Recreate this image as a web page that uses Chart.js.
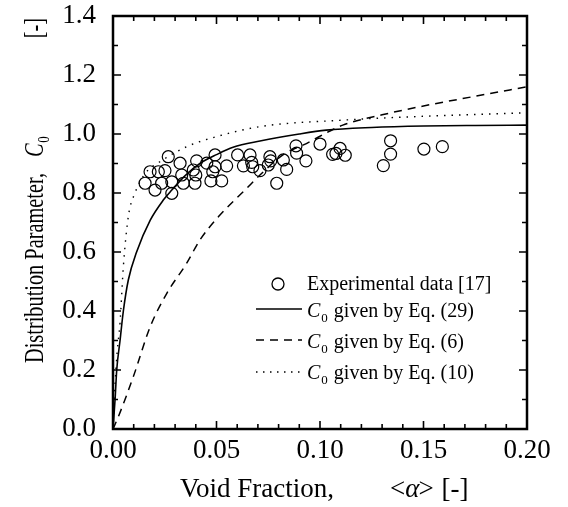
<!DOCTYPE html>
<html>
<head>
<meta charset="utf-8">
<script src="https://cdn.jsdelivr.net/npm/chart.js@4.4.1/dist/chart.umd.min.js"></script>
<style>
  html, body { margin: 0; padding: 0; background: #fff; }
</style>
</head>
<body>
<canvas id="chart" width="568" height="507"></canvas>
<script>
// Experimental data [17]
const expX = [0.0155, 0.0179, 0.0203, 0.0219, 0.0235, 0.0251, 0.0267, 0.0284, 0.0284, 0.0324,
              0.0332, 0.0340, 0.0388, 0.0396, 0.0404, 0.0400, 0.0453, 0.0493, 0.0493, 0.0482,
              0.0473, 0.0525, 0.0549, 0.0602, 0.0662, 0.0670, 0.0630, 0.0675, 0.0710, 0.0758,
              0.0762, 0.0750, 0.0823, 0.0839, 0.0791, 0.0884, 0.0887, 0.0932, 0.1000, 0.1097,
              0.1061, 0.1077, 0.1122, 0.1341, 0.1341, 0.1306, 0.1502, 0.1591];
const expY = [0.833, 0.872, 0.810, 0.872, 0.833, 0.876, 0.923, 0.838, 0.799, 0.901,
              0.861, 0.833, 0.878, 0.833, 0.909, 0.861, 0.901, 0.929, 0.889, 0.872,
              0.841, 0.841, 0.892, 0.929, 0.929, 0.904, 0.892, 0.889, 0.876, 0.923,
              0.909, 0.895, 0.912, 0.880, 0.833, 0.960, 0.935, 0.909, 0.966, 0.951,
              0.931, 0.934, 0.928, 0.977, 0.932, 0.893, 0.949, 0.957];

// C0 given by Eq. (29)
const eq29X = [0, 0.001, 0.0018, 0.0034, 0.005, 0.0074, 0.0114, 0.018, 0.0243, 0.0284, 0.035,
               0.042, 0.050, 0.058, 0.071, 0.090, 0.103, 0.125, 0.150, 0.175, 0.200];
const eq29Y = [0, 0.10, 0.20, 0.30, 0.40, 0.505, 0.60, 0.708, 0.776, 0.81, 0.86,
               0.90, 0.93, 0.955, 0.976, 1.000, 1.013, 1.022, 1.027, 1.029, 1.030];

// C0 given by Eq. (6)
const eq6X = [0, 0.0026, 0.0098, 0.018, 0.026, 0.0356, 0.042, 0.051, 0.0646, 0.071, 0.083,
              0.092, 0.111, 0.130, 0.150, 0.175, 0.200];
const eq6Y = [0, 0.042, 0.177, 0.347, 0.46, 0.562, 0.641, 0.72, 0.816, 0.861, 0.934,
              0.963, 1.03, 1.065, 1.095, 1.128, 1.16];

// C0 given by Eq. (10)
const eq10X = [0, 0.001, 0.002, 0.0034, 0.005, 0.0074, 0.0106, 0.016, 0.0227, 0.0356, 0.047,
               0.071, 0.111, 0.150, 0.200];
const eq10Y = [0, 0.15, 0.26, 0.36, 0.55, 0.72, 0.80, 0.87, 0.906, 0.957, 0.985,
               1.025, 1.047, 1.060, 1.072];

const xTickVals = [0, 0.05, 0.10, 0.15, 0.20];
const yTickVals = [0, 0.2, 0.4, 0.6, 0.8, 1.0, 1.2, 1.4];

const SERIF = "'Liberation Serif', 'Times New Roman', serif";

function pts(xs, ys) {
  return xs.map((x, i) => ({ x: x, y: ys[i] }));
}

// draws a sequence of text pieces; each piece: {t, font, dy, gap}
function drawRuns(ctx, runs, x, y) {
  let cx = x;
  runs.forEach(r => {
    cx += r.gap || 0;
    ctx.font = r.font;
    ctx.fillText(r.t, cx, y + (r.dy || 0));
    cx += ctx.measureText(r.t).width;
  });
}

const framePlugin = {
  id: "frame",
  afterDatasetsDraw(chart) {
    const { ctx, chartArea: a, scales } = chart;
    const xs = scales.x, ys = scales.y;
    ctx.save();
    ctx.strokeStyle = "#000";
    ctx.lineWidth = 2.5;
    ctx.strokeRect(a.left, a.top, a.right - a.left, a.bottom - a.top);
    ctx.lineWidth = 1.6;
    ctx.beginPath();
    for (let i = 0; i <= 20; i++) {
      const v = i * 0.01;
      const len = i % 5 === 0 ? 8 : 5;
      const px = xs.getPixelForValue(v);
      ctx.moveTo(px, a.bottom); ctx.lineTo(px, a.bottom - len);
      ctx.moveTo(px, a.top); ctx.lineTo(px, a.top + len);
    }
    for (let i = 0; i <= 14; i++) {
      const v = i * 0.1;
      const len = i % 2 === 0 ? 8 : 5;
      const py = ys.getPixelForValue(v);
      ctx.moveTo(a.left, py); ctx.lineTo(a.left + len, py);
      ctx.moveTo(a.right, py); ctx.lineTo(a.right - len, py);
    }
    ctx.stroke();
    ctx.restore();
  },
  afterDraw(chart) {
    const { ctx } = chart;
    ctx.save();
    ctx.fillStyle = "#000";
    ctx.strokeStyle = "#000";
    ctx.textBaseline = "alphabetic";

    // x axis title
    const f27 = "27px " + SERIF, i27 = "italic 27px " + SERIF;
    drawRuns(ctx, [
      { t: "Void Fraction,", font: f27 },
      { t: "<", font: f27, gap: 56 },
      { t: "\u03B1", font: i27, gap: 0 },
      { t: ">", font: f27, gap: -1 },
      { t: "[-]", font: f27, gap: 8 }
    ], 180, 497);

    // y axis title (rotated)
    ctx.save();
    ctx.translate(43, 363);
    ctx.rotate(-Math.PI / 2);
    ctx.font = "27px " + SERIF;
    const sx = 190 / ctx.measureText("Distribution Parameter,").width;
    ctx.scale(sx, 1);
    const g = 1 / sx;
    drawRuns(ctx, [
      { t: "Distribution Parameter,", font: "27px " + SERIF },
      { t: "C", font: "italic 27px " + SERIF, gap: 16 * g },
      { t: "0", font: "17px " + SERIF, dy: 6, gap: 1 },
      { t: "[-]", font: "27px " + SERIF, gap: 98 * g }
    ], 0, 0);
    ctx.restore();

    // legend
    const f20 = "20px " + SERIF, i20 = "italic 20px " + SERIF, s13 = "13px " + SERIF;
    ctx.lineWidth = 1.3;
    ctx.beginPath();
    ctx.arc(278, 284, 6, 0, Math.PI * 2);
    ctx.stroke();
    ctx.font = f20;
    ctx.fillText("Experimental data [17]", 307, 290);

    const rows = [
      { y: 309, base: 317, dash: [], w: 1.5, label: "(29)" },
      { y: 340, base: 348, dash: [8, 6], w: 1.5, label: "(6)" },
      { y: 372, base: 379, dash: [1.5, 5.5], w: 1.3, label: "(10)" }
    ];
    rows.forEach(r => {
      ctx.setLineDash(r.dash);
      ctx.lineWidth = r.w;
      ctx.beginPath();
      ctx.moveTo(256, r.y);
      ctx.lineTo(302, r.y);
      ctx.stroke();
      ctx.setLineDash([]);
      drawRuns(ctx, [
        { t: "C", font: i20 },
        { t: "0", font: s13, dy: 5, gap: 1 },
        { t: " given by Eq. " + r.label, font: f20, gap: 1 }
      ], 307, r.base);
    });
    ctx.restore();
  }
};

new Chart(document.getElementById("chart"), {
  type: "scatter",
  data: {
    datasets: [
      {
        label: "Experimental data [17]",
        data: pts(expX, expY),
        showLine: false,
        pointStyle: "circle",
        pointRadius: 6,
        pointBorderWidth: 1.2,
        pointBorderColor: "#000",
        pointBackgroundColor: "rgba(0,0,0,0)"
      },
      {
        label: "C0 given by Eq. (29)",
        data: pts(eq29X, eq29Y),
        showLine: true,
        pointRadius: 0,
        borderColor: "#000",
        borderWidth: 1.6,
        cubicInterpolationMode: "monotone"
      },
      {
        label: "C0 given by Eq. (6)",
        data: pts(eq6X, eq6Y),
        showLine: true,
        pointRadius: 0,
        borderColor: "#000",
        borderWidth: 1.5,
        borderDash: [8, 6],
        cubicInterpolationMode: "monotone"
      },
      {
        label: "C0 given by Eq. (10)",
        data: pts(eq10X, eq10Y),
        showLine: true,
        pointRadius: 0,
        borderColor: "#000",
        borderWidth: 1.4,
        borderDash: [1.5, 6],
        cubicInterpolationMode: "monotone"
      }
    ]
  },
  options: {
    responsive: false,
    animation: false,
    layout: { padding: { top: 16, right: 41, left: 0, bottom: 0 } },
    plugins: { legend: { display: false }, tooltip: { enabled: false } },
    scales: {
      x: {
        type: "linear",
        min: 0,
        max: 0.2,
        grid: { display: false, drawTicks: false },
        border: { display: false },
        afterBuildTicks: s => { s.ticks = xTickVals.map(v => ({ value: v })); },
        afterFit: s => { s.height = 78; s.paddingLeft = 0; s.paddingRight = 0; },
        ticks: {
          color: "#000",
          padding: 6,
          maxRotation: 0,
          font: { family: SERIF, size: 27 },
          callback: v => v.toFixed(2)
        }
      },
      y: {
        type: "linear",
        min: 0,
        max: 1.4,
        grid: { display: false, drawTicks: false },
        border: { display: false },
        afterBuildTicks: s => { s.ticks = yTickVals.map(v => ({ value: v })); },
        afterFit: s => { s.width = 113; s.paddingTop = 0; s.paddingBottom = 0; },
        ticks: {
          color: "#000",
          padding: 17,
          font: { family: SERIF, size: 27 },
          callback: v => v.toFixed(1)
        }
      }
    }
  },
  plugins: [framePlugin]
});
</script>
</body>
</html>
